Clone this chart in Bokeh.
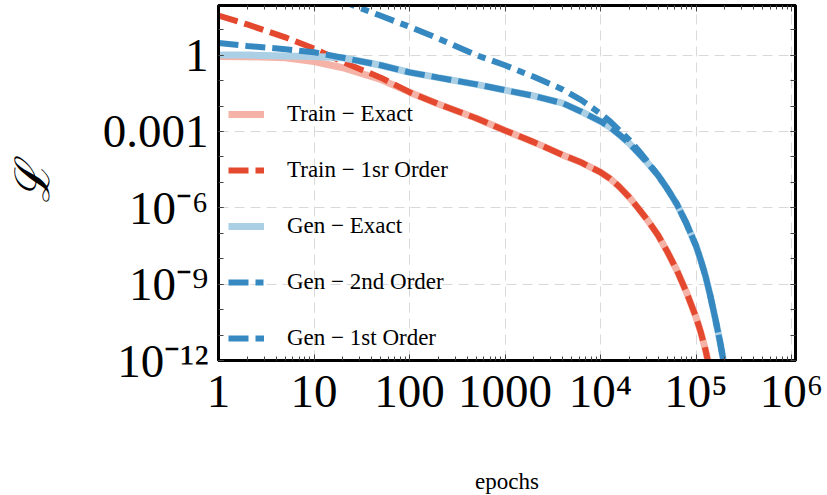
from bokeh.plotting import figure
from bokeh.models import (Range1d, FixedTicker, LogAxis, Legend, LegendItem, AllLabels)
from bokeh.embed import file_html
from bokeh.resources import INLINE

# ---- data ----
epochs = [1, 2, 5, 10, 20, 50, 100, 200, 500, 1000, 2000, 4000, 6300, 1e4, 1.26e4, 1.58e4, 2e4, 2.5e4,
          3.16e4, 4e4, 5e4, 6.3e4, 7.9e4, 1e5, 1.12e5, 1.26e5, 1.41e5, 1.58e5, 1.78e5, 2e5]

train_first = [36, 16, 5.0, 1.8, 0.54, 0.13, 3.5e-2, 1.2e-2, 3.3e-3, 1.1e-3, 3.8e-4, 1.2e-4, 6.0e-5, 2.5e-5,
               1.4e-5, 6.6e-6, 2.6e-6, 9.3e-7, 3.0e-7, 8.3e-8, 1.9e-8, 3.5e-9, 5.0e-10, 5.0e-11, 1.3e-11,
               2.5e-12, 3.5e-13, 4.0e-14, 3.2e-15, 2.5e-16]
train_exact = [0.89, 0.87, 0.79, 0.56, 0.32, 0.11, 3.5e-2, 1.2e-2, 3.3e-3, 1.1e-3, 3.8e-4, 1.2e-4, 6.0e-5, 2.5e-5,
               1.4e-5, 6.6e-6, 2.6e-6, 9.3e-7, 3.0e-7, 8.3e-8, 1.9e-8, 3.5e-9, 5.0e-10, 5.0e-11, 1.3e-11,
               2.5e-12, 3.5e-13, 4.0e-14, 3.2e-15, 2.5e-16]
gen_first = [3.0, 2.3, 1.7, 1.3, 0.79, 0.40, 0.21, 0.13, 7.1e-2, 4.2e-2, 2.5e-2, 1.3e-2, 6.0e-3, 2.5e-3,
             1.45e-3, 7.4e-4, 3.4e-4, 1.4e-4, 5.4e-5, 1.9e-5, 5.6e-6, 1.4e-6, 2.5e-7, 3.2e-8, 8.9e-9,
             2.0e-9, 3.5e-10, 5.0e-11, 5.6e-12, 5.0e-13]
gen_exact = [1.0, 1.0, 0.93, 0.89, 0.79, 0.40, 0.21, 0.13, 7.1e-2, 4.2e-2, 2.5e-2, 1.3e-2, 6.0e-3, 2.5e-3,
             1.45e-3, 7.4e-4, 3.4e-4, 1.4e-4, 5.4e-5, 1.9e-5, 5.6e-6, 1.4e-6, 2.5e-7, 3.2e-8, 8.9e-9,
             2.0e-9, 3.5e-10, 5.0e-11, 5.6e-12, 5.0e-13]
gen_second = [1.0e4, 3.5e3, 1.0e3, 3.5e2, 1.3e2, 35, 13, 4.5, 1.0, 0.40, 0.14, 4.5e-2, 1.7e-2, 5.0e-3,
              2.5e-3, 1.1e-3, 4.7e-4, 1.8e-4, 6.0e-5, 1.9e-5, 5.6e-6, 1.4e-6, 2.5e-7, 3.2e-8, 8.9e-9,
              2.0e-9, 3.5e-10, 5.0e-11, 5.6e-12, 5.0e-13]

labels = ["Train − Exact", "Train − 1sr Order", "Gen − Exact", "Gen − 2nd Order", "Gen − 1st Order"]

x_ticks = [1, 10, 100, 1000, 10000, 100000, 1000000]
x_tick_labels = ["1", "10", "100", "1000", "10⁴", "10⁵", "10⁶"]
y_ticks = [1e-12, 1e-9, 1e-6, 1e-3, 1]
y_tick_labels = ["10⁻¹²", "10⁻⁹", "10⁻⁶", "0.001", "1"]

x_minor = [m * 10.0 ** k for k in range(0, 7) for m in range(1, 10)]
y_minor = [10.0 ** k for k in range(-12, 3)]

SALMON = "#f5b2a6"
RED = "#e4492f"
LBLUE = "#abd0e6"
BLUE = "#3689c0"
FONT = "Liberation Serif"

p = figure(x_axis_type="log", y_axis_type="log",
           frame_width=577, frame_height=355,
           min_border_left=218, min_border_right=30, min_border_top=5, min_border_bottom=125,
           x_range=Range1d(1, 1.1e6), y_range=Range1d(1e-12, 89),
           output_backend="svg", toolbar_location=None,
           background_fill_color="white", border_fill_color="white")

xt = FixedTicker(ticks=x_ticks, minor_ticks=x_minor)
yt = FixedTicker(ticks=y_ticks, minor_ticks=y_minor)

p.xaxis.ticker = xt
p.yaxis.ticker = yt
p.xgrid.ticker = FixedTicker(ticks=x_ticks)
p.ygrid.ticker = FixedTicker(ticks=y_ticks)
for g in (p.xgrid, p.ygrid):
    g.grid_line_color = "#d9d9d9"
    g.grid_line_dash = "10 6"
    g.grid_line_width = 1

p.xaxis.major_label_overrides = {float(k): v for k, v in zip(x_ticks, x_tick_labels)}
p.yaxis.major_label_overrides = {float(k): v for k, v in zip(y_ticks, y_tick_labels)}

for ax in (p.xaxis[0], p.yaxis[0]):
    ax.major_label_policy = AllLabels()
    ax.major_label_text_font = FONT
    ax.major_label_text_font_size = "47px"
    ax.major_label_text_color = "black"
    ax.major_tick_in = 6
    ax.major_tick_out = 0
    ax.minor_tick_in = 4
    ax.minor_tick_out = 0
    ax.major_tick_line_color = "#444444"
    ax.minor_tick_line_color = "#444444"
    ax.axis_line_color = "black"
    ax.axis_line_width = 3

p.yaxis.minor_tick_in = 5
p.yaxis.major_tick_in = 5
p.xaxis.major_label_standoff = 4
p.yaxis.major_label_standoff = 10

p.xaxis.axis_label = "epochs"
p.xaxis.axis_label_text_font = FONT
p.xaxis.axis_label_text_font_size = "23px"
p.xaxis.axis_label_text_font_style = "normal"
p.xaxis.axis_label_text_color = "black"
p.xaxis.axis_label_standoff = 49

p.yaxis.axis_label = "ℒ"
p.yaxis.axis_label_text_font = "DejaVu Serif"
p.yaxis.axis_label_text_font_size = "48px"
p.yaxis.axis_label_text_font_style = "italic"
p.yaxis.axis_label_text_color = "black"
p.yaxis.axis_label_standoff = 40

# mirrored tick axes (top and right), labels invisible
top = LogAxis(ticker=xt, major_label_text_font_size="2px", major_label_text_alpha=0,
              major_tick_in=6, major_tick_out=0,
              minor_tick_in=4, minor_tick_out=0, axis_line_color="black", axis_line_width=3,
              major_tick_line_color="#444444", minor_tick_line_color="#444444", major_label_standoff=0)
right = LogAxis(ticker=yt, major_label_text_font_size="2px", major_label_text_alpha=0,
                major_tick_in=5, major_tick_out=0,
                minor_tick_in=5, minor_tick_out=0, axis_line_color="black", axis_line_width=3,
                major_tick_line_color="#444444", minor_tick_line_color="#444444", major_label_standoff=0)
p.add_layout(top, "above")
p.add_layout(right, "right")

p.outline_line_color = "black"
p.outline_line_width = 3

r1 = p.line(epochs, train_exact, line_color=SALMON, line_width=7)
r2 = p.line(epochs, train_first, line_color=RED, line_width=6, line_dash="20 7")
r3 = p.line(epochs, gen_exact, line_color=LBLUE, line_width=7)
r4 = p.line(epochs, gen_second, line_color=BLUE, line_width=6, line_dash="20 7 8 7")
r5 = p.line(epochs, gen_first, line_color=BLUE, line_width=6, line_dash="20 7")

legend = Legend(items=[LegendItem(label=l, renderers=[r]) for l, r in zip(labels, [r1, r2, r3, r4, r5])],
                location=(10, 9), padding=0, margin=0, spacing=30,
                glyph_width=36, glyph_height=24, label_height=24, label_standoff=23,
                label_text_font=FONT, label_text_font_size="23px", label_text_color="black",
                background_fill_alpha=0, border_line_alpha=0)
p.add_layout(legend, "center")

open("out.html", "w").write(file_html(p, INLINE))
